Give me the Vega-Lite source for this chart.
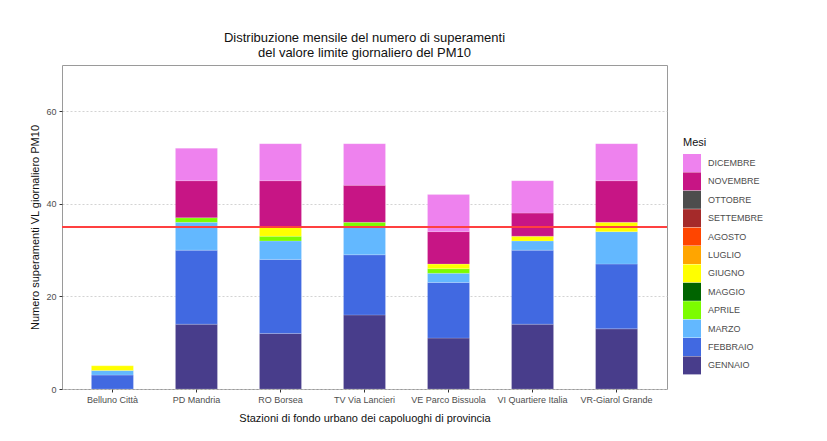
{
  "$schema": "https://vega.github.io/schema/vega-lite/v6.json",
  "autosize": {"type": "none"},
  "width": 605,
  "height": 324,
  "padding": {"left": 62, "top": 65, "right": 160, "bottom": 52},
  "background": "white",
  "config": {
    "font": "Liberation Sans",
    "view": {"stroke": "#9a9a9a", "strokeWidth": 1}
  },
  "title": {
    "text": ["Distribuzione mensile del numero di superamenti", "del valore limite giornaliero del PM10"],
    "fontSize": 13,
    "fontWeight": "normal",
    "color": "#111111",
    "anchor": "middle",
    "offset": 5,
    "lineHeight": 15
  },
  "data": {
    "values": [
      {"stazione": "Belluno Città", "mese": "FEBBRAIO", "n": 2, "giorni": 3},
      {"stazione": "Belluno Città", "mese": "MARZO", "n": 3, "giorni": 1},
      {"stazione": "Belluno Città", "mese": "GIUGNO", "n": 6, "giorni": 1},
      {"stazione": "PD Mandria", "mese": "GENNAIO", "n": 1, "giorni": 14},
      {"stazione": "PD Mandria", "mese": "FEBBRAIO", "n": 2, "giorni": 16},
      {"stazione": "PD Mandria", "mese": "MARZO", "n": 3, "giorni": 6},
      {"stazione": "PD Mandria", "mese": "APRILE", "n": 4, "giorni": 1},
      {"stazione": "PD Mandria", "mese": "NOVEMBRE", "n": 11, "giorni": 8},
      {"stazione": "PD Mandria", "mese": "DICEMBRE", "n": 12, "giorni": 7},
      {"stazione": "RO Borsea", "mese": "GENNAIO", "n": 1, "giorni": 12},
      {"stazione": "RO Borsea", "mese": "FEBBRAIO", "n": 2, "giorni": 16},
      {"stazione": "RO Borsea", "mese": "MARZO", "n": 3, "giorni": 4},
      {"stazione": "RO Borsea", "mese": "APRILE", "n": 4, "giorni": 1},
      {"stazione": "RO Borsea", "mese": "GIUGNO", "n": 6, "giorni": 2},
      {"stazione": "RO Borsea", "mese": "NOVEMBRE", "n": 11, "giorni": 10},
      {"stazione": "RO Borsea", "mese": "DICEMBRE", "n": 12, "giorni": 8},
      {"stazione": "TV Via Lancieri", "mese": "GENNAIO", "n": 1, "giorni": 16},
      {"stazione": "TV Via Lancieri", "mese": "FEBBRAIO", "n": 2, "giorni": 13},
      {"stazione": "TV Via Lancieri", "mese": "MARZO", "n": 3, "giorni": 6},
      {"stazione": "TV Via Lancieri", "mese": "APRILE", "n": 4, "giorni": 1},
      {"stazione": "TV Via Lancieri", "mese": "NOVEMBRE", "n": 11, "giorni": 8},
      {"stazione": "TV Via Lancieri", "mese": "DICEMBRE", "n": 12, "giorni": 9},
      {"stazione": "VE Parco Bissuola", "mese": "GENNAIO", "n": 1, "giorni": 11},
      {"stazione": "VE Parco Bissuola", "mese": "FEBBRAIO", "n": 2, "giorni": 12},
      {"stazione": "VE Parco Bissuola", "mese": "MARZO", "n": 3, "giorni": 2},
      {"stazione": "VE Parco Bissuola", "mese": "APRILE", "n": 4, "giorni": 1},
      {"stazione": "VE Parco Bissuola", "mese": "GIUGNO", "n": 6, "giorni": 1},
      {"stazione": "VE Parco Bissuola", "mese": "NOVEMBRE", "n": 11, "giorni": 7},
      {"stazione": "VE Parco Bissuola", "mese": "DICEMBRE", "n": 12, "giorni": 8},
      {"stazione": "VI Quartiere Italia", "mese": "GENNAIO", "n": 1, "giorni": 14},
      {"stazione": "VI Quartiere Italia", "mese": "FEBBRAIO", "n": 2, "giorni": 16},
      {"stazione": "VI Quartiere Italia", "mese": "MARZO", "n": 3, "giorni": 2},
      {"stazione": "VI Quartiere Italia", "mese": "GIUGNO", "n": 6, "giorni": 1},
      {"stazione": "VI Quartiere Italia", "mese": "NOVEMBRE", "n": 11, "giorni": 5},
      {"stazione": "VI Quartiere Italia", "mese": "DICEMBRE", "n": 12, "giorni": 7},
      {"stazione": "VR-Giarol Grande", "mese": "GENNAIO", "n": 1, "giorni": 13},
      {"stazione": "VR-Giarol Grande", "mese": "FEBBRAIO", "n": 2, "giorni": 14},
      {"stazione": "VR-Giarol Grande", "mese": "MARZO", "n": 3, "giorni": 7},
      {"stazione": "VR-Giarol Grande", "mese": "GIUGNO", "n": 6, "giorni": 2},
      {"stazione": "VR-Giarol Grande", "mese": "NOVEMBRE", "n": 11, "giorni": 9},
      {"stazione": "VR-Giarol Grande", "mese": "DICEMBRE", "n": 12, "giorni": 8}
    ]
  },
  "layer": [
    {
      "mark": {"type": "bar", "stroke": "white", "strokeWidth": 0.3, "strokeOpacity": 0.6},
      "encoding": {
        "x": {
          "field": "stazione",
          "type": "nominal",
          "sort": null,
          "scale": {"paddingInner": 0.5, "paddingOuter": 0.35},
          "axis": {
            "title": "Stazioni di fondo urbano dei capoluoghi di provincia",
            "titleFontSize": 11,
            "titleFontWeight": "normal",
            "titleColor": "#111111",
            "titlePadding": 8,
            "labelAngle": 0,
            "labelFontSize": 9,
            "labelColor": "#4d4d4d",
            "labelPadding": 3,
            "tickColor": "#333333",
            "tickSize": 3,
            "domain": false
          }
        },
        "y": {
          "field": "giorni",
          "type": "quantitative",
          "stack": "zero",
          "scale": {"domain": [0, 70], "nice": false},
          "axis": {
            "title": "Numero superamenti VL giornaliero PM10",
            "titleFontSize": 11,
            "titleFontWeight": "normal",
            "titleColor": "#111111",
            "titlePadding": 5,
            "values": [0, 20, 40, 60],
            "labelFontSize": 9,
            "labelColor": "#4d4d4d",
            "labelPadding": 3,
            "tickColor": "#333333",
            "tickSize": 3,
            "domain": false,
            "grid": true,
            "gridColor": "#c8c8c8",
            "gridDash": [2, 2],
            "gridWidth": 0.8
          }
        },
        "color": {
          "field": "mese",
          "type": "nominal",
          "scale": {
            "domain": ["DICEMBRE", "NOVEMBRE", "OTTOBRE", "SETTEMBRE", "AGOSTO", "LUGLIO", "GIUGNO", "MAGGIO", "APRILE", "MARZO", "FEBBRAIO", "GENNAIO"],
            "range": ["#EE82EE", "#C71585", "#4D4D4D", "#A52A2A", "#FF4500", "#FFA500", "#FFFF00", "#006400", "#7CFC00", "#63B8FF", "#4169E1", "#483D8B"]
          },
          "legend": {
            "title": "Mesi",
            "titleFontSize": 11,
            "titleFontWeight": "normal",
            "titleColor": "#111111",
            "titlePadding": 6,
            "labelFontSize": 9,
            "labelColor": "#4d4d4d",
            "labelOffset": 7,
            "symbolType": "square",
            "symbolSize": 324,
            "symbolStrokeWidth": 0,
            "rowPadding": 0.4,
            "orient": "none",
            "legendX": 621,
            "legendY": 72,
            "padding": 0
          }
        },
        "order": {"field": "n", "type": "quantitative", "sort": "ascending"}
      }
    },
    {
      "mark": {"type": "rule", "color": "#FF4040", "strokeWidth": 2, "opacity": 0.9},
      "encoding": {"y": {"datum": 35, "type": "quantitative"}}
    }
  ]
}
